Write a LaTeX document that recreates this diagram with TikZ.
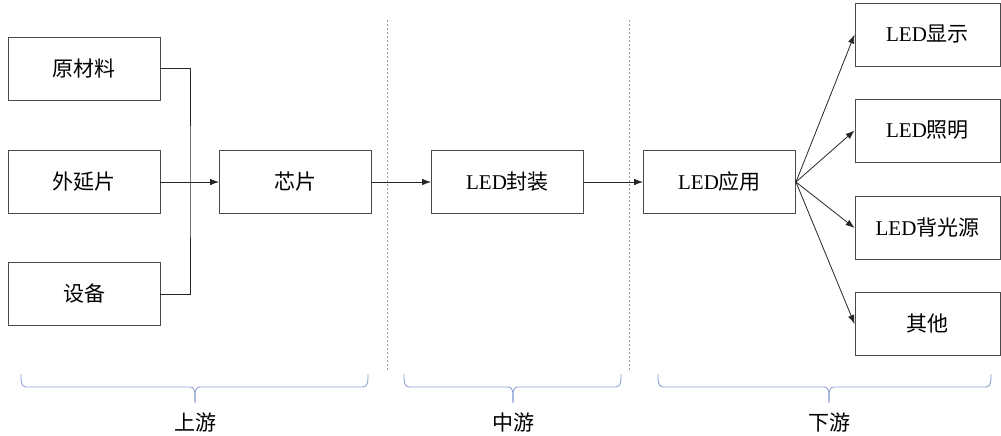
\documentclass[tikz,border=0pt]{standalone}
\usepackage{fontspec}
\setmainfont{Liberation Serif}
\newfontfamily\cjk{Noto Sans CJK SC}
\usetikzlibrary{arrows.meta}

\definecolor{boxline}{HTML}{4A4A4A}
\definecolor{sepline}{HTML}{9C97B5}
\definecolor{braceline}{HTML}{8EA2D3}

\tikzset{
  stage/.style={draw=boxline, line width=0.9pt, minimum width=152, minimum height=63,
    inner sep=0pt, font=\fontsize{21}{24}\selectfont},
  endbox/.style={stage, minimum width=145},
  link/.style={draw=black!85, line width=0.8pt},
  arr/.style={link, -{Latex[length=9pt,width=6.5pt]}},
  sep/.style={draw=sepline, line width=0.6pt, dash pattern=on 2pt off 2pt},
  bracepath/.style={draw=braceline, line width=0.9pt},
  phase/.style={font=\fontsize{21}{24}\selectfont\cjk}
}

\begin{document}
\begin{tikzpicture}[x=1pt, y=-1pt]
  \useasboundingbox (0,0) rectangle (1001,436);

  % upstream
  \node[stage] (yuan) at (84,68.5) {\cjk 原材料};
  \node[stage] (waiyan) at (84,182) {\cjk 外延片};
  \node[stage] (shebei) at (84,294) {\cjk 设备};
  \node[stage] (xinpian) at (295.5,182) {\cjk 芯片};
  \coordinate (bus) at (190,182);
  \draw[link] (yuan.east) -| (bus) |- (shebei.east);
  \draw[arr] (waiyan) -- (xinpian);

  % midstream
  \node[stage] (fengzhuang) at (507.5,182) {LED{\cjk 封装}};
  \draw[arr] (xinpian) -- (fengzhuang);

  % downstream
  \node[stage] (yingyong) at (719.5,182) {LED{\cjk 应用}};
  \draw[arr] (fengzhuang) -- (yingyong);
  \node[endbox] (xianshi) at (927.5,34.5) {LED{\cjk 显示}};
  \node[endbox] (zhaoming) at (927.5,130.5) {LED{\cjk 照明}};
  \node[endbox] (beiguang) at (927.5,228) {LED{\cjk 背光源}};
  \node[endbox] (qita) at (927.5,324) {\cjk 其他};
  \foreach \t in {xianshi, zhaoming, beiguang, qita}
    \draw[arr] (yingyong.east) -- (\t.west);

  % separators
  \coordinate (s1top) at (387,20);
  \coordinate (s1bot) at (387,372);
  \coordinate (s2top) at (629,20);
  \coordinate (s2bot) at (629,372);
  \draw[sep] (s1top) -- (s1bot);
  \draw[sep] (s2top) -- (s2bot);

  % braces
  \foreach \a/\m/\b in {21/195/368, 404/513/621, 658/829/991} {
    \draw[bracepath] (\a,374) to[out=-90,in=180] (\a+5,387) -- (\m-5,387)
      to[out=0,in=90] (\m,403);
    \draw[bracepath] (\b,374) to[out=-90,in=0] (\b-5,387) -- (\m+5,387)
      to[out=180,in=90] (\m,403);
  }
  \node[phase] (shang) at (195,423) {上游};
  \node[phase] (zhong) at (513,423) {中游};
  \node[phase] (xia) at (829,423) {下游};
\end{tikzpicture}
\end{document}
